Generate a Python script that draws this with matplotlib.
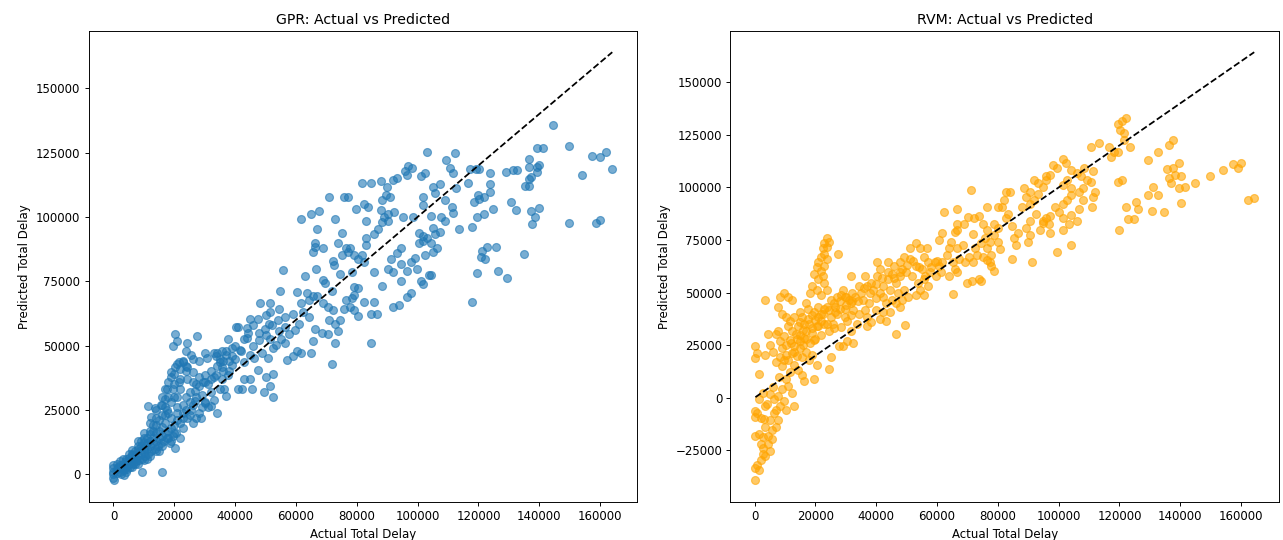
import numpy as np
import matplotlib
matplotlib.use('Agg')
import matplotlib.pyplot as plt

# (actual, predicted) total delay, in thousands
gpr_points = [
    # sparse upper right
    (144.6, 135.9), (149.7, 127.6), (157.3, 123.6), (160.0, 123.2), (162.0, 125.2),
    (164.0, 118.5), (154.0, 116.2), (149.7, 97.6), (158.7, 97.6), (160.0, 98.8),
    (139.3, 126.9), (141.3, 126.9), (136.6, 122.5), (136.6, 119.4), (139.3, 119.4),
    (140.0, 120.1), (139.3, 117.6), (129.2, 117.6), (131.2, 118.2), (132.8, 118.2),
    (136.6, 114.9), (137.2, 115.4), (135.2, 112.1), (136.6, 112.1), (130.6, 105.8),
    (132.5, 102.8), (137.2, 102.2), (139.9, 103.6), (138.6, 100.1), (137.6, 97.2),
    (134.9, 85.5), (129.5, 76.1), (126.5, 79.1), (119.5, 78.1), (117.9, 67.0),
    (120.8, 84.5), (122.3, 83.8), (121.2, 86.7), (122.9, 88.5), (125.8, 88.5),
    (124.8, 103.2), (121.9, 101.2), (119.5, 99.8), (117.9, 96.2), (118.5, 105.8),
    (120.3, 106.8), (121.9, 107.8), (119.7, 108.5), (123.9, 109.8), (123.9, 112.9),
    (123.9, 117.2), (120.3, 118.5), (119.3, 118.8), (117.2, 118.5), (116.5, 113.2),
    (112.5, 111.2), (112.2, 124.8), (109.4, 122.2), (110.8, 119.2), (111.5, 117.2),
    (103.1, 125.4), (102.5, 117.2), (101.1, 115.8), (96.9, 119.8), (98.1, 119.2),
    (95.8, 117.9), (96.5, 116.1), (91.8, 114.2), (93.1, 115.1), (88.1, 114.1),
    (81.7, 113.2), (84.7, 113.2), (89.8, 111.8), (89.5, 108.5), (90.8, 107.8),
    (88.4, 106.5), (87.8, 102.5), (90.4, 101.2), (92.4, 101.8), (95.1, 100.1),
    (98.5, 100.1), (101.8, 107.8), (101.8, 104.5), (104.9, 111.8), (107.2, 112.9),
    (105.8, 109.2), (108.9, 106.5), (111.2, 103.8), (111.8, 101.4), (109.1, 98.5),
    (104.5, 100.5), (107.8, 100.1), (105.2, 95.8), (105.8, 93.2), (107.2, 94.2),
    (113.6, 95.2), (100.6, 93.8), (101.9, 90.5), (103.2, 91.8), (104.5, 89.8),
    (106.5, 87.8), (105.2, 86.5), (102.5, 85.1), (100.6, 89.8), (101.9, 92.5),
    (99.1, 84.1), (97.8, 82.5), (94.4, 81.8), (96.5, 79.1), (99.8, 79.8),
    (103.8, 77.4), (104.5, 77.4), (101.1, 75.1), (101.8, 73.8), (97.8, 70.5),
    (96.5, 68.9), (94.4, 87.8), (93.1, 85.8), (91.1, 83.8), (90.4, 79.8),
    (91.8, 78.5), (94.4, 75.1), (88.4, 73.1), (91.8, 65.1), (93.8, 65.8),
    (85.8, 78.5), (85.8, 67.0), (84.7, 62.2), (86.8, 62.2), (84.7, 51.1),
    (83.1, 98.5), (83.8, 103.8), (82.4, 105.2), (79.8, 103.2), (85.8, 93.2),
    (87.1, 95.2), (88.4, 98.1), (89.1, 100.1), (90.4, 98.5),
    # middle band
    (76.4, 88.1), (77.7, 87.8), (77.0, 86.5), (75.2, 85.1), (79.1, 85.1),
    (80.4, 83.8), (82.4, 82.5), (83.1, 91.8), (83.1, 89.1), (81.8, 85.1),
    (71.0, 107.6), (75.7, 107.6), (77.0, 107.6), (73.0, 99.2), (75.0, 93.8),
    (61.7, 99.2), (65.0, 101.2), (67.7, 102.2), (67.0, 95.2), (66.3, 89.8),
    (66.3, 88.5), (65.7, 86.5), (69.0, 88.1), (73.7, 89.8), (66.7, 79.8),
    (63.0, 76.9), (55.9, 79.5), (54.6, 71.1), (60.3, 70.7), (69.0, 75.5),
    (69.7, 74.2), (71.7, 71.1), (72.1, 82.7), (72.4, 81.2), (74.4, 77.8),
    (78.4, 78.5), (80.4, 72.3), (79.1, 72.9), (63.7, 70.5), (65.7, 69.1),
    (64.4, 67.8), (61.7, 66.4), (62.3, 63.1), (64.4, 61.1), (67.0, 69.1),
    (69.0, 66.4), (70.4, 65.1), (72.1, 63.8), (71.0, 59.8), (74.4, 59.8),
    (73.7, 55.8), (73.0, 58.5), (70.7, 54.5), (73.0, 51.1), (71.7, 42.7),
    (76.4, 67.8), (77.7, 65.1), (75.8, 64.4), (78.4, 68.4), (79.1, 63.8),
    (80.4, 61.4), (82.4, 67.0), (79.1, 69.7), (66.3, 56.5), (68.4, 55.1),
    (65.7, 51.8), (65.0, 47.1), (61.7, 47.1), (60.3, 47.8), (59.0, 45.8),
    (57.0, 44.4), (59.7, 56.1), (56.3, 57.1), (57.7, 54.5), (56.3, 51.1),
    (55.0, 52.4), (53.6, 50.4), (51.6, 52.4), (54.3, 55.8), (56.3, 61.1),
    (59.0, 62.4), (61.0, 58.5), (48.3, 66.4), (51.6, 66.4), (51.6, 63.1),
    (54.3, 64.4), (51.0, 58.5), (49.7, 56.5), (47.6, 60.4), (44.9, 60.4),
    (44.3, 55.1), (42.9, 52.4), (52.3, 49.1), (50.7, 45.1), (48.9, 47.1),
    (46.3, 45.1), (44.9, 46.4), (42.9, 43.8), (41.6, 48.4), (52.3, 39.1),
    (50.3, 37.8), (51.6, 34.4), (52.3, 30.2), (49.6, 31.8), (47.6, 40.4),
    (44.9, 37.1), (42.9, 37.1), (40.9, 33.1), (42.3, 33.1), (45.6, 33.1),
    (40.3, 57.3), (41.0, 57.3), (37.6, 52.4), (38.9, 49.1), (36.9, 46.4),
    (35.6, 47.8), (32.9, 47.1), (33.6, 45.8), (30.9, 45.1), (34.9, 43.8),
    (35.6, 41.8), (38.9, 42.4), (37.6, 38.4), (35.6, 37.1), (33.6, 38.4),
    (32.2, 37.1), (30.2, 38.4), (29.6, 35.8), (28.2, 34.4), (26.9, 32.4),
    (36.3, 33.1), (36.9, 30.4), (34.2, 23.8), (32.2, 26.4), (30.2, 27.8),
    (28.9, 21.8), (26.9, 28.4), (25.6, 25.1), (24.2, 21.8), (27.6, 53.8),
    (24.2, 51.1), (20.2, 54.5), (20.9, 51.8), (19.5, 49.8), (23.7, 47.8),
    (21.5, 43.8), (22.9, 43.8), (24.2, 41.8), (20.2, 41.8), (18.9, 39.8),
    (25.6, 46.4), (26.2, 39.8), (24.2, 37.1), (21.5, 35.8), (19.5, 33.1),
    (17.5, 33.1), (16.9, 29.1), (17.5, 25.1), (15.5, 27.1), (13.5, 25.8),
    (12.2, 22.4), (11.5, 26.4), (20.2, 10.4), (16.1, 1.1), (9.5, 0.8),
    (3.5, -0.3), (0.1, -2.3),
    (44.0, 53.0), (46.0, 58.0), (48.0, 55.0), (50.0, 62.0), (52.0, 58.0),
    (54.0, 60.0), (46.0, 50.0), (48.0, 52.0), (50.0, 54.0), (44.0, 57.0),
    # dense cloud near the origin
    (0.0, 0.0), (0.0, 1.0), (0.0, 2.5), (0.0, 3.5), (0.0, -1.5), (1.0, 0.5),
    (1.0, 2.0), (1.5, 3.0), (2.0, 1.0), (2.0, 3.5), (2.5, 0.0), (3.0, 2.0),
    (3.0, 4.0), (3.5, 1.5), (4.0, 3.0), (4.0, 5.0), (4.5, 2.0), (5.0, 4.0),
    (5.0, 6.5), (5.5, 3.0), (6.0, 5.0), (6.0, 7.5), (6.5, 4.0), (7.0, 6.0),
    (7.0, 9.0), (7.5, 5.0), (8.0, 7.0), (8.0, 10.0), (8.5, 5.5), (9.0, 8.0),
    (9.0, 11.0), (9.5, 6.0), (10.0, 9.0), (10.0, 12.5), (10.5, 7.0), (11.0, 10.0),
    (11.0, 14.0), (11.5, 8.0), (12.0, 11.0), (12.0, 15.5), (12.5, 9.0), (13.0, 12.0),
    (13.0, 17.0), (13.5, 10.0), (14.0, 13.0), (14.0, 19.0), (14.5, 11.0), (15.0, 14.0),
    (15.0, 21.0), (15.5, 12.0), (16.0, 15.0), (16.0, 23.0), (16.5, 13.0), (17.0, 16.0),
    (17.0, 26.0), (17.5, 14.0), (18.0, 17.0), (18.0, 24.0), (18.5, 12.0), (19.0, 18.0),
    (19.0, 28.0), (19.5, 15.0), (20.0, 19.0), (20.0, 30.0), (20.5, 16.0), (21.0, 21.0),
    (21.0, 26.0), (22.0, 20.0), (22.0, 33.0), (23.0, 22.0), (23.0, 18.0), (24.0, 25.0),
    (24.0, 30.0), (25.0, 23.0), (26.0, 27.0), (26.0, 20.0), (27.0, 30.0), (28.0, 24.0),
    (29.0, 31.0), (30.0, 28.0), (31.0, 26.0), (32.0, 32.0), (33.0, 29.0), (12.0, 20.0),
    (10.0, 16.0), (8.0, 13.0), (6.0, 9.5), (14.0, 22.0), (16.0, 27.0), (18.0, 30.0),
    (20.0, 35.0), (19.0, 38.0), (17.0, 33.0), (15.0, 17.0), (13.0, 14.0), (11.0, 12.0),
    (9.0, 9.5), (7.0, 7.5), (5.0, 5.0), (3.0, 3.0), (4.0, 1.0), (6.0, 3.0),
    (8.0, 4.0), (10.0, 5.5), (12.0, 7.0), (14.0, 9.0), (16.0, 11.0), (18.0, 14.0),
    (20.0, 16.0), (22.0, 14.0), (16.0, 18.5), (14.0, 16.0), (12.0, 13.0), (10.0, 10.5),
    (17.0, 20.0), (19.0, 22.0), (21.0, 24.0), (23.0, 27.0), (25.0, 32.0), (27.0, 35.0),
    (22.0, 37.0), (24.0, 40.0), (21.0, 43.0), (23.0, 44.0), (24.0, 42.0), (26.0, 36.0),
    (28.0, 38.0), (30.0, 36.0), (32.0, 40.0), (34.0, 42.0), (36.0, 40.0), (38.0, 44.0),
    (35.0, 45.0), (37.0, 48.0), (39.0, 46.0), (40.0, 50.0), (42.0, 48.0),
    (5.0, 8.0), (7.0, 4.0), (9.0, 13.0), (11.0, 6.0), (13.0, 19.0), (15.0, 9.0),
    (17.0, 23.0), (19.0, 13.0), (21.0, 30.0), (23.0, 24.0), (25.0, 28.0), (27.0, 22.0),
    (29.0, 26.0), (31.0, 35.0), (33.0, 38.0), (35.0, 33.0), (18.0, 36.0), (20.0, 39.0),
    (22.0, 41.0), (16.0, 30.0), (14.0, 25.0), (12.0, 17.0), (10.0, 14.0), (8.0, 11.0),
    (6.0, 8.0), (4.0, 6.0), (2.0, 5.0), (1.0, 4.0), (3.0, 6.0), (26.0, 45.0),
    (28.0, 44.0), (30.0, 47.0), (34.0, 47.0), (36.0, 44.0), (38.0, 40.0), (40.0, 45.0),
]

rvm_points = [
    # upper right
    (122.1, 133.0), (120.8, 131.4), (119.5, 130.1), (120.1, 127.3), (121.4, 125.7),
    (121.4, 122.4), (123.4, 119.1), (113.4, 121.3), (110.7, 119.1), (116.7, 119.1),
    (118.1, 116.7), (117.2, 114.7), (119.4, 116.7), (137.5, 122.4), (136.2, 120.0),
    (132.8, 116.7), (129.5, 113.1), (135.6, 108.9), (137.5, 109.4), (139.5, 111.8),
    (136.2, 104.5), (138.2, 106.1), (140.2, 105.3), (136.8, 102.0), (139.5, 99.6),
    (141.5, 100.4), (144.9, 102.0), (140.2, 92.5), (134.8, 88.3), (130.6, 89.0),
    (131.1, 100.4), (132.8, 96.3), (129.5, 96.3), (149.6, 105.6), (154.2, 108.5),
    (157.3, 111.0), (158.9, 109.4), (160.0, 111.8), (162.3, 93.8), (164.3, 95.2),
    (119.4, 102.8), (120.8, 103.6), (122.1, 90.9), (125.5, 93.0), (126.1, 89.8),
    (122.8, 84.9), (124.8, 84.9), (119.8, 80.0),
    # upper middle
    (111.4, 107.7), (110.7, 102.8), (112.1, 97.9), (111.4, 95.5), (111.1, 90.9),
    (108.0, 93.8), (106.7, 89.8), (106.0, 84.1), (104.0, 87.0), (103.4, 82.4),
    (101.3, 80.0), (104.0, 72.6), (99.3, 69.4), (101.3, 113.4), (102.4, 111.8),
    (99.3, 109.4), (98.0, 110.5), (97.3, 106.1), (96.0, 105.6), (104.0, 108.5),
    (106.0, 106.9), (107.3, 105.3), (108.3, 109.4), (109.4, 103.6), (102.7, 103.6),
    (101.3, 101.2), (104.0, 99.6), (106.7, 97.9), (108.0, 99.6), (104.0, 96.3),
    (102.7, 93.8), (101.3, 92.2), (98.7, 90.6), (100.0, 88.1), (101.3, 85.7),
    (97.3, 86.5), (96.0, 85.7), (94.7, 84.1), (96.7, 82.4), (97.3, 78.3),
    (94.0, 80.0), (94.7, 83.2), (90.6, 97.9), (89.3, 95.5), (90.6, 92.2),
    (91.9, 93.8), (93.3, 97.1), (88.6, 99.6), (88.0, 90.6), (92.6, 87.3),
    (90.6, 84.1), (89.3, 80.8), (90.6, 77.5), (89.8, 74.3), (91.1, 64.5),
    (86.6, 78.3), (85.3, 75.9), (85.9, 72.6), (84.6, 81.6), (94.7, 100.4),
    (96.0, 103.6), (93.3, 102.0), (91.9, 103.6), (82.6, 97.9), (83.9, 97.9),
    (81.9, 93.8), (81.3, 90.9), (83.3, 87.3), (82.6, 85.7), (78.6, 82.4),
    (79.9, 80.8), (78.6, 77.5), (79.9, 74.3), (77.3, 74.3), (80.6, 70.9),
    (84.6, 66.1), (77.9, 67.8), (76.6, 71.0), (74.6, 73.4),
    # middle
    (71.3, 98.7), (76.6, 90.6), (79.9, 90.6), (73.9, 86.5), (72.2, 85.7),
    (70.3, 86.0), (66.5, 89.8), (69.0, 82.4), (66.5, 82.4), (66.5, 80.0),
    (65.9, 78.7), (62.3, 88.5), (61.5, 78.3), (60.5, 75.1), (76.6, 80.0),
    (75.2, 82.4), (75.9, 75.9), (71.9, 77.9), (72.6, 71.0), (73.3, 67.7),
    (75.2, 66.9), (76.6, 65.3), (77.9, 62.8), (78.6, 60.4), (77.3, 64.5),
    (68.6, 72.6), (66.5, 71.0), (64.5, 74.3), (63.9, 71.0), (65.2, 64.5),
    (67.2, 66.1), (69.2, 64.5), (71.9, 64.5), (70.6, 66.9), (69.9, 54.7),
    (71.6, 55.5), (73.9, 56.3), (74.6, 55.5), (65.9, 61.2), (66.5, 59.6),
    (63.9, 57.9), (61.2, 59.6), (59.8, 57.9), (65.2, 49.5), (63.2, 67.7),
    (61.8, 64.5), (60.5, 62.8), (59.2, 64.5), (55.8, 66.9), (57.2, 64.5),
    (55.2, 61.2), (57.8, 59.6), (55.8, 56.3), (57.2, 53.0), (54.5, 51.4),
    (55.8, 49.0), (53.2, 49.0), (53.8, 54.7), (51.8, 57.9), (53.2, 62.8),
    (51.1, 66.1), (51.1, 71.0), (54.5, 71.0), (53.2, 73.4), (56.6, 71.0),
    (49.1, 66.9), (47.8, 64.5), (48.5, 61.2), (49.8, 59.6), (47.8, 57.9),
    (45.8, 62.8), (43.8, 64.5), (45.1, 58.8), (46.5, 54.7), (44.4, 51.4),
    (47.1, 49.8), (49.1, 51.4), (50.5, 48.1), (48.5, 46.5), (46.5, 44.9),
    (45.1, 46.5), (42.4, 48.1), (43.1, 44.9), (47.8, 43.2), (46.5, 30.2),
    (49.4, 34.8), (43.1, 36.7),
    (42.0, 57.0), (44.0, 60.0), (46.0, 57.0), (48.0, 60.0), (50.0, 63.0),
    (52.0, 65.0), (54.0, 62.0), (56.0, 58.0), (58.0, 62.0), (60.0, 65.0),
    # 20k - 45k
    (41.1, 61.2), (40.4, 57.9), (38.4, 54.7), (37.1, 53.0), (39.1, 51.4),
    (41.1, 49.8), (39.8, 47.3), (37.8, 44.9), (35.7, 46.5), (35.1, 49.8),
    (34.4, 53.0), (36.4, 41.6), (34.4, 40.0), (32.4, 41.6), (31.8, 44.9),
    (33.8, 35.1), (37.1, 34.3), (31.8, 31.8), (30.4, 26.9), (27.7, 24.5),
    (29.1, 24.5), (32.4, 26.1), (31.8, 57.9), (29.1, 51.4), (28.4, 49.0),
    (29.8, 48.1), (27.0, 48.1), (25.0, 46.5), (26.4, 43.2), (24.4, 41.6),
    (27.0, 40.0), (29.8, 38.4), (30.4, 36.7), (28.4, 33.5), (25.7, 35.1),
    (24.4, 31.8), (23.0, 35.1), (22.4, 40.0), (21.0, 38.4), (20.4, 34.3),
    (39.8, 41.6), (42.4, 40.8), (41.1, 37.5), (38.4, 35.9), (37.1, 38.4),
    (44.4, 40.8), (42.4, 53.0), (43.8, 56.3), (36.4, 57.9), (33.1, 48.1),
    (31.1, 46.5), (31.8, 39.2), (29.8, 42.4), (25.0, 38.4), (26.4, 40.8),
    (23.0, 42.4), (21.0, 43.2), (19.7, 40.8), (21.7, 36.7), (40.4, 64.5),
    (14.0, 28.0), (16.0, 32.0), (18.0, 35.0), (20.0, 37.0), (22.0, 40.0),
    (24.0, 43.0), (26.0, 45.0), (28.0, 46.0), (30.0, 48.0), (32.0, 50.0),
    (34.0, 46.0), (36.0, 52.0), (38.0, 50.0), (40.0, 54.0),
    (15.0, 30.0), (17.0, 28.0), (19.0, 33.0), (21.0, 34.0), (13.0, 22.0),
    (12.0, 26.0), (14.0, 20.0), (16.0, 25.0), (18.0, 18.0), (20.0, 28.0),
    (22.0, 30.0), (24.0, 35.0), (26.0, 33.0), (28.0, 42.0), (30.0, 44.0),
    (32.0, 46.0),
    # spike around 20k - 25k
    (23.7, 75.9), (24.4, 74.3), (23.0, 73.4), (23.7, 71.8), (22.4, 71.0),
    (23.0, 68.5), (27.4, 68.2), (21.7, 66.9), (23.7, 66.1), (21.0, 64.5),
    (23.0, 62.8), (20.4, 62.0), (21.7, 60.4), (19.7, 58.8), (22.4, 57.9),
    (21.0, 56.3), (23.0, 54.7), (19.0, 53.0), (20.4, 51.4), (18.3, 49.8),
    (21.7, 49.0), (23.7, 51.4),
    # low actual delays
    (3.6, 46.5), (7.6, 43.2), (8.4, 48.1), (9.6, 49.8), (11.0, 48.1),
    (12.2, 46.5), (17.0, 44.9), (17.7, 42.4), (15.7, 38.4), (17.7, 37.5),
    (19.0, 39.2), (16.3, 35.1), (14.3, 34.3), (17.0, 31.8), (19.0, 31.0),
    (19.7, 27.7), (18.3, 26.1), (16.3, 28.6), (15.0, 26.9), (13.7, 30.2),
    (12.3, 31.8), (11.6, 27.7), (10.3, 25.3), (13.0, 24.5), (15.0, 23.7),
    (17.0, 22.0), (19.0, 20.4), (15.7, 19.6), (12.3, 21.2), (0.3, 24.5),
    (0.3, 18.8), (0.9, 21.2), (1.6, 11.4), (4.3, 30.2), (7.0, 30.2),
    (5.0, 25.3), (3.6, 20.4), (6.2, 22.0), (8.4, 19.6), (9.0, 23.7),
    (7.0, 17.1), (9.6, 18.0), (10.3, 20.4), (13.0, 15.5), (14.3, 13.1),
    (15.7, 10.6), (16.3, 8.2), (19.7, 9.0), (20.4, 15.5), (24.4, 13.9),
    (25.0, 19.6), (11.6, 12.2), (10.3, 9.0), (11.0, 5.7), (12.3, 2.4),
    (13.0, -4.1), (9.0, 4.1), (7.6, 0.8), (6.3, -0.8), (9.6, -1.6),
    (8.3, -4.1), (10.3, -5.7), (6.3, -7.3), (7.6, -10.6), (5.0, -10.6),
    (7.0, -13.9), (5.6, -15.5), (3.6, -13.9), (4.3, -18.0), (2.9, -18.8),
    (2.3, -22.0), (1.6, -17.1), (0.3, -18.0), (2.3, -9.8), (0.9, -7.3),
    (0.3, -6.5), (0.3, -9.0), (1.6, -0.8), (2.9, 2.4), (3.6, -4.1),
    (5.0, -25.3), (2.9, -26.9), (2.3, -29.4), (0.9, -31.8), (1.6, -34.3),
    (0.3, -33.5), (0.3, -39.2), (3.6, -27.7), (2.9, -23.7), (4.3, -22.0),
    (5.6, -19.6), (9.0, 40.0), (10.3, 38.4), (11.6, 36.7), (13.0, 38.4),
    (15.0, 40.8), (11.0, 34.3), (7.6, 31.8), (9.6, 29.4), (8.4, 26.9),
    (15.0, 35.9), (11.0, 18.0), (9.0, 15.0), (8.0, 10.0), (6.0, 5.0),
    (4.0, -3.0), (5.0, 2.0), (7.0, -6.0), (3.0, -10.0),
]

titles = ['GPR: Actual vs Predicted', 'RVM: Actual vs Predicted']
colors = ['tab:blue', 'orange']
x_ticks = [0, 20000, 40000, 60000, 80000, 100000, 120000, 140000, 160000]


def main():
    # The source figure looks like default styling shrunk by ~0.85
    fig, axes = plt.subplots(1, 2, figsize=(1283 / 85, 540 / 85), dpi=85)
    fig.subplots_adjust(left=0.069, right=0.997, bottom=0.071, top=0.943,
                        wspace=0.17)

    for ax, points, title, color in zip(axes, [gpr_points, rvm_points],
                                        titles, colors):
        actual, pred = np.array(points).T * 1000
        ax.scatter(actual, pred, s=45, color=color, alpha=0.6)
        lo, hi = actual.min(), actual.max()
        ax.plot([lo, hi], [lo, hi], 'k--', lw=1.5)
        ax.set_xticks(x_ticks)
        ax.set_title(title)
        ax.set_xlabel('Actual Total Delay')
        ax.set_ylabel('Predicted Total Delay')

    fig.savefig('out.png')


if __name__ == '__main__':
    main()
